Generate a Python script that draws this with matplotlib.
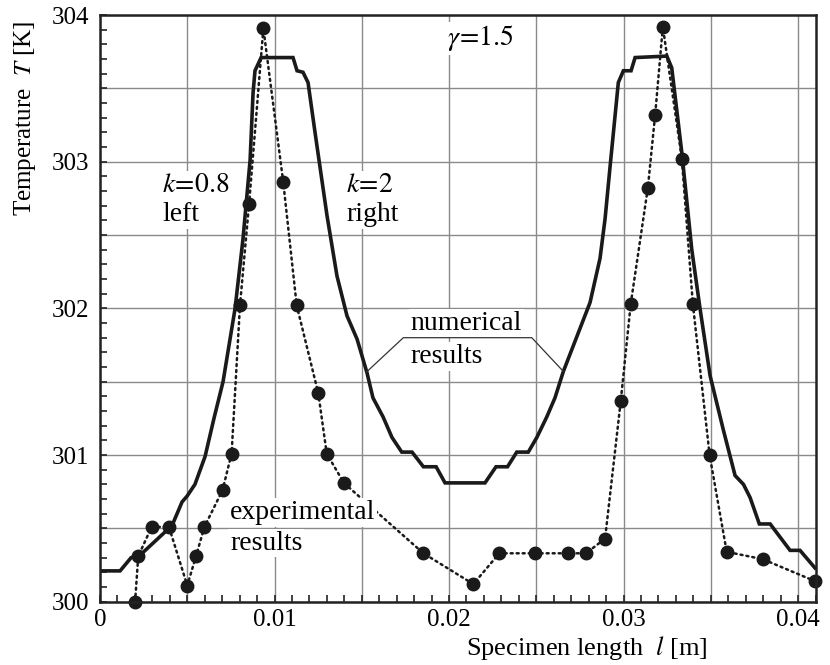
import matplotlib
matplotlib.use('Agg')
import matplotlib.pyplot as plt
from matplotlib.ticker import FixedLocator, FixedFormatter, MultipleLocator

plt.rcParams.update({
    'font.family': ['Liberation Serif', 'DejaVu Serif'],
    'mathtext.fontset': 'stix',
    'xtick.labelsize': 18,
    'ytick.labelsize': 18,
})

# numerical results (solid line)
num_x = [0.0, 0.00115, 0.00178, 0.00241, 0.00413, 0.00470, 0.00499, 0.00544,
         0.00602, 0.00653, 0.00705, 0.00774, 0.00819, 0.00860, 0.00877, 0.00888,
         0.00923, 0.01106, 0.01129, 0.01163, 0.01192, 0.01232, 0.01301, 0.01358,
         0.01415, 0.01473, 0.01530, 0.01564, 0.01622, 0.01673, 0.01729, 0.01788,
         0.01853, 0.01926, 0.01977, 0.02206, 0.02269, 0.02335, 0.02388, 0.02454,
         0.02503, 0.02560, 0.02607, 0.02655, 0.02808, 0.02865, 0.02894, 0.02923,
         0.02970, 0.02999, 0.03043, 0.03066, 0.03248, 0.03276, 0.03334, 0.03391,
         0.03438, 0.03496, 0.03572, 0.03639, 0.03687, 0.03725, 0.03778, 0.03840,
         0.03954, 0.04011, 0.04097]
num_y = [300.21, 300.21, 300.30, 300.33, 300.52, 300.68, 300.72, 300.80,
         300.99, 301.25, 301.50, 302.00, 302.47, 303.01, 303.47, 303.62,
         303.71, 303.71, 303.62, 303.61, 303.54, 303.20, 302.63, 302.22,
         301.95, 301.79, 301.56, 301.39, 301.26, 301.12, 301.02, 301.02,
         300.92, 300.92, 300.81, 300.81, 300.92, 300.92, 301.02, 301.02,
         301.12, 301.26, 301.39, 301.57, 302.04, 302.34, 302.61, 302.97,
         303.54, 303.62, 303.62, 303.71, 303.72, 303.64, 303.06, 302.40,
         302.00, 301.54, 301.17, 300.86, 300.80, 300.71, 300.53, 300.53,
         300.35, 300.35, 300.23]

# experimental results (dots)
exp_x = [0.00201, 0.00219, 0.00296, 0.00395, 0.00500, 0.00550, 0.00598, 0.00702,
         0.00754, 0.00802, 0.00854, 0.00936, 0.01050, 0.01127, 0.01251, 0.01299,
         0.01397, 0.01853, 0.02139, 0.02288, 0.02493, 0.02684, 0.02785, 0.02894,
         0.02984, 0.03041, 0.03139, 0.03181, 0.03225, 0.03334, 0.03397, 0.03493,
         0.03591, 0.03797, 0.04097]
exp_y = [300.00, 300.31, 300.51, 300.51, 300.11, 300.31, 300.51, 300.76,
         301.01, 302.02, 302.71, 303.91, 302.86, 302.02, 301.42, 301.01,
         300.81, 300.33, 300.12, 300.33, 300.33, 300.33, 300.33, 300.43,
         301.37, 302.03, 302.82, 303.32, 303.92, 303.02, 302.03, 301.00,
         300.34, 300.29, 300.14]

# axes ticks / grid
x_grid = [0, 0.005, 0.01, 0.015, 0.02, 0.025, 0.03, 0.035, 0.04]
x_labels = ['0', '', '0.01', '', '0.02', '', '0.03', '', '0.04']
y_grid = [300, 300.5, 301, 301.5, 302, 302.5, 303, 303.5, 304]
y_labels = ['300', '', '301', '', '302', '', '303', '', '304']

fig = plt.figure(figsize=(8.3, 6.65), dpi=100)
ax = fig.add_axes([0.1205, 0.0952, 0.8627, 0.8822])

ax.plot(num_x, num_y, color='#1a1a1a', lw=2.6, zorder=2, solid_joinstyle='miter')
ax.plot(exp_x, exp_y, color='#1a1a1a', lw=1.8, linestyle=(0, (0.8, 1.6)),
        dash_capstyle='round', marker='o', markersize=9, zorder=2, clip_on=False)

ax.set_xlim(0, 0.04103)
ax.set_ylim(300, 304)

ax.xaxis.set_major_locator(FixedLocator(x_grid))
ax.xaxis.set_major_formatter(FixedFormatter(x_labels))
ax.xaxis.set_minor_locator(MultipleLocator(0.001))
ax.yaxis.set_major_locator(FixedLocator(y_grid))
ax.yaxis.set_major_formatter(FixedFormatter(y_labels))
ax.yaxis.set_minor_locator(MultipleLocator(0.1))

ax.tick_params(which='both', direction='in', length=5, width=1.2,
               top=False, right=False, color='#222222')
ax.tick_params(axis='y', pad=8)
ax.tick_params(axis='x', pad=5)
ax.grid(True, which='major', color='#8a8a8a', lw=1.0)
ax.set_axisbelow(True)
for s in ax.spines.values():
    s.set_linewidth(1.8)
    s.set_color('#222222')

box = dict(facecolor='white', edgecolor='none', pad=1.5)
fs = 20
ax.text(0.0199, 303.84, r'$\gamma\!=\!1.5$', fontsize=fs, va='center', ha='left', bbox=box, zorder=3)
ax.text(0.00355, 302.84, r'$k\!=\!0.8$', fontsize=fs, va='center', ha='left', bbox=box, zorder=3)
ax.text(0.00355, 302.64, 'left', fontsize=fs, va='center', ha='left', bbox=box, zorder=3)
ax.text(0.0141, 302.84, r'$k\!=\!2$', fontsize=fs, va='center', ha='left', bbox=box, zorder=3)
ax.text(0.0141, 302.64, 'right', fontsize=fs, va='center', ha='left', bbox=box, zorder=3)
ax.text(0.0178, 301.90, 'numerical', fontsize=fs, va='center', ha='left', bbox=box, zorder=3)
ax.text(0.0178, 301.67, 'results', fontsize=fs, va='center', ha='left', bbox=box, zorder=3)
ax.text(0.00745, 300.61, 'experimental', fontsize=fs, va='center', ha='left', bbox=box, zorder=3)
ax.text(0.00745, 300.40, 'results', fontsize=fs, va='center', ha='left', bbox=box, zorder=3)

# leader lines of "numerical results"
ax.plot([0.01528, 0.01738, 0.02474, 0.02655], [301.567, 301.80, 301.80, 301.57],
        color='#333333', lw=0.9, zorder=4)

fig.text(25 / 830, 1 - 118 / 665, r'Temperature  $T$ [K]', rotation=90,
         fontsize=18, ha='center', va='center')
fig.text(587 / 830, 1 - 648 / 665, r'Specimen length  $l$ [m]',
         fontsize=19, ha='center', va='center')

fig.savefig('out.png', dpi=100)
